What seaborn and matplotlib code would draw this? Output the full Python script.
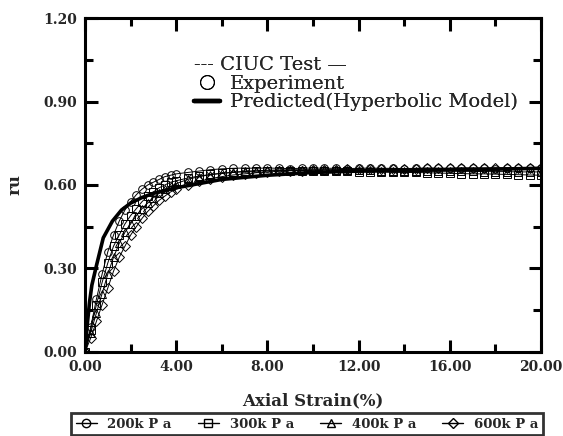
import matplotlib
matplotlib.use("Agg")
import matplotlib.pyplot as plt
from matplotlib.lines import Line2D
from matplotlib.ticker import MultipleLocator, FormatStrFormatter
import seaborn as sns
import pandas as pd

# ---------------- data ----------------
strain = [0.0, 0.25, 0.5, 0.75, 1.0, 1.25, 1.5, 1.75, 2.0, 2.25, 2.5, 2.75, 3.0,
          3.25, 3.5, 3.75, 4.0, 4.5, 5.0, 5.5, 6.0, 6.5, 7.0, 7.5, 8.0, 8.5, 9.0,
          9.5, 10.0, 10.5, 11.0, 11.5, 12.0, 12.5, 13.0, 13.5, 14.0, 14.5, 15.0,
          15.5, 16.0, 16.5, 17.0, 17.5, 18.0, 18.5, 19.0, 19.5, 20.0]

ru_200 = [0.00, 0.09, 0.19, 0.28, 0.36, 0.42, 0.47, 0.51, 0.54, 0.565, 0.585, 0.60,
          0.61, 0.62, 0.63, 0.635, 0.64, 0.645, 0.65, 0.655, 0.658, 0.66, 0.661,
          0.66, 0.661, 0.66, 0.659, 0.66, 0.661, 0.66, 0.66, 0.659, 0.66, 0.661,
          0.66, 0.66, 0.659, 0.66, 0.661, 0.66, 0.66, 0.661, 0.66, 0.66, 0.659,
          0.66, 0.661, 0.66, 0.66]
ru_300 = [0.00, 0.08, 0.17, 0.25, 0.32, 0.38, 0.42, 0.46, 0.49, 0.515, 0.54, 0.56,
          0.575, 0.59, 0.60, 0.61, 0.615, 0.625, 0.632, 0.638, 0.642, 0.645, 0.648,
          0.65, 0.651, 0.652, 0.652, 0.652, 0.651, 0.65, 0.65, 0.649, 0.648, 0.648,
          0.647, 0.646, 0.645, 0.645, 0.644, 0.643, 0.642, 0.641, 0.64, 0.64,
          0.639, 0.638, 0.637, 0.636, 0.635]
ru_400 = [0.00, 0.07, 0.14, 0.21, 0.28, 0.34, 0.39, 0.43, 0.46, 0.49, 0.515, 0.535,
          0.555, 0.57, 0.585, 0.595, 0.605, 0.62, 0.63, 0.637, 0.642, 0.646, 0.649,
          0.651, 0.653, 0.654, 0.655, 0.655, 0.655, 0.655, 0.654, 0.654, 0.653,
          0.653, 0.652, 0.652, 0.651, 0.651, 0.65, 0.65, 0.65, 0.649, 0.649,
          0.648, 0.648, 0.648, 0.647, 0.647, 0.647]
ru_600 = [0.00, 0.05, 0.11, 0.17, 0.23, 0.29, 0.34, 0.38, 0.42, 0.45, 0.48, 0.505,
          0.525, 0.545, 0.56, 0.575, 0.585, 0.60, 0.613, 0.623, 0.63, 0.636, 0.64,
          0.644, 0.647, 0.649, 0.651, 0.652, 0.653, 0.654, 0.655, 0.656, 0.656,
          0.657, 0.658, 0.658, 0.659, 0.659, 0.66, 0.66, 0.66, 0.661, 0.661,
          0.661, 0.662, 0.662, 0.662, 0.662, 0.662]

pred_strain = [0.0, 0.1, 0.2, 0.3, 0.5, 0.8, 1.2, 1.6, 2.0, 2.5, 3.0, 4.0, 5.0,
               6.0, 8.0, 10.0, 12.0, 14.0, 16.0, 18.0, 20.0]
pred_ru = [0.0, 0.10, 0.18, 0.24, 0.31, 0.41, 0.47, 0.51, 0.535, 0.555, 0.57,
           0.59, 0.605, 0.62, 0.635, 0.645, 0.65, 0.652, 0.655, 0.657, 0.66]

series_labels = ["200kPa", "300kPa", "400kPa", "600kPa"]
series_markers = ["o", "s", "^", "D"]
legend_labels = ["200k P a", "300k P a", "400k P a", "600k P a"]

# ---------------- figure ----------------
sns.set_theme(style="ticks")
plt.rcParams["font.family"] = ["DejaVu Serif"]

fig = plt.figure(figsize=(5.63, 4.36), dpi=100)
ax = fig.add_axes([0.151, 0.1927, 0.81, 0.766])

series = [ru_200, ru_300, ru_400, ru_600]
for lab, mk, vals in zip(series_labels, series_markers, series):
    df = pd.DataFrame({"strain": strain, "ru": vals})
    sns.lineplot(data=df, x="strain", y="ru", ax=ax, color="black", lw=0.7,
                 marker=mk, markersize=5.5 if mk != "D" else 4.8,
                 markerfacecolor="none", markeredgecolor="black",
                 markeredgewidth=0.7, estimator=None, sort=False, legend=False)

dfp = pd.DataFrame({"strain": pred_strain, "ru": pred_ru})
sns.lineplot(data=dfp, x="strain", y="ru", ax=ax, color="black", lw=2.6,
             estimator=None, sort=False, legend=False)

ax.set_xlim(0, 20)
ax.set_ylim(0, 1.2)
ax.xaxis.set_major_locator(MultipleLocator(4))
ax.xaxis.set_minor_locator(MultipleLocator(2))
ax.yaxis.set_major_locator(MultipleLocator(0.3))
ax.yaxis.set_minor_locator(MultipleLocator(0.15))
ax.xaxis.set_major_formatter(FormatStrFormatter("%.2f"))
ax.yaxis.set_major_formatter(FormatStrFormatter("%.2f"))

for sp in ax.spines.values():
    sp.set_visible(True)
    sp.set_linewidth(2.2)
    sp.set_color("black")

ax.tick_params(which="both", direction="in", top=True, right=True,
               color="black", width=2.2)
ax.tick_params(which="major", length=9, pad=6, labelsize=10)
ax.tick_params(which="minor", length=6)
for t in ax.get_xticklabels() + ax.get_yticklabels():
    t.set_fontweight("bold")

ax.set_xlabel("Axial Strain(%)", fontsize=12, fontweight="bold", labelpad=13)
ax.set_ylabel("ru", fontsize=12, fontweight="bold", labelpad=14)

# inner legend
h_exp = Line2D([], [], ls="none", marker="o", markersize=10,
               markerfacecolor="none", markeredgecolor="black", markeredgewidth=0.8)
h_pred = Line2D([], [], color="black", lw=3.2)
leg1 = ax.legend([h_exp, h_pred], ["Experiment", "Predicted(Hyperbolic Model)"],
                 title="--- CIUC Test —", alignment="left",
                 loc="upper left", bbox_to_anchor=(0.24, 0.885),
                 frameon=False, fontsize=14, title_fontsize=14,
                 handlelength=1.3, handletextpad=0.55, labelspacing=0.02,
                 borderpad=0.0, borderaxespad=0.0)
ax.add_artist(leg1)

# bottom legend
handles = [Line2D([], [], color="black", lw=1.0, marker=m,
                  markersize=6 if m != "D" else 5.2, markerfacecolor="none",
                  markeredgecolor="black", markeredgewidth=1.0)
           for m in series_markers]
leg2 = fig.legend(handles, legend_labels, loc="upper left", ncol=4,
                  bbox_to_anchor=(71 / 563, 23 / 436, 472 / 563, 0),
                  mode="expand", frameon=True, fancybox=False,
                  prop={"size": 9.5, "weight": "bold"},
                  handlelength=1.6, handletextpad=0.8, borderpad=0.35,
                  borderaxespad=0.0, columnspacing=1.0)
leg2.get_frame().set_edgecolor("black")
leg2.get_frame().set_linewidth(2.0)

fig.savefig("out.png", dpi=100)
